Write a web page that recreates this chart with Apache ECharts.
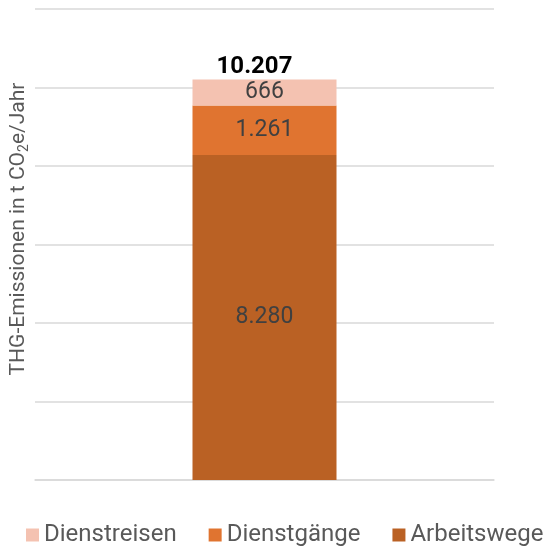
<!DOCTYPE html>
<html><head><meta charset="utf-8">
<script src="https://cdn.jsdelivr.net/npm/echarts@6/dist/echarts.min.js"></script>
<style>html,body{margin:0;padding:0;background:#fff}#c{width:548px;height:546px}</style>
</head><body><div id="c"></div>
<script>
const categories = ['Gesamt'];
const arbeitswege = [8280];
const dienstgaenge = [1261];
const dienstreisen = [666];
const seriesNames = ['Dienstreisen', 'Dienstgänge', 'Arbeitswege'];
const yMin = 0, yMax = 12000, yInterval = 2000;

function fmt(v){ return String(Math.round(v)).replace(/\B(?=(\d{3})+(?!\d))/g, '.'); }
const totals = categories.map((c,i)=>arbeitswege[i]+dienstgaenge[i]+dienstreisen[i]);

const labelStyle = {show:true, position:'inside', color:'#404040', fontSize:23, fontFamily:'Roboto', formatter:p=>fmt(p.value)};
const chart = echarts.init(document.getElementById('c'));
chart.setOption({
  animation:false,
  textStyle:{fontFamily:'Roboto'},
  grid:{left:35, right:54, top:9, bottom:66, containLabel:false, outerBoundsMode:'none'},
  legend:{data:seriesNames, top:523, left:26, width:522, padding:0, itemWidth:13, itemHeight:13, itemGap:32, icon:'rect',
    textStyle:{fontSize:24, color:'#595959', fontFamily:'Roboto'}},
  xAxis:{type:'category', data:categories, axisLabel:{show:false}, axisTick:{show:false},
    axisLine:{show:true, lineStyle:{color:'#d9d9d9', width:1.5}}},
  yAxis:{type:'value', min:yMin, max:yMax, interval:yInterval, axisLabel:{show:false},
    axisLine:{show:false}, axisTick:{show:false},
    splitLine:{lineStyle:{color:'#d9d9d9', width:1.5}},
    name:'THG-Emissionen in t CO{s|2}e/Jahr', nameLocation:'middle', nameRotate:90, nameGap:4,
    nameTextStyle:{fontSize:21, color:'#595959', fontFamily:'Roboto', padding:[0,0,0,31],
      rich:{s:{fontSize:14, color:'#595959', padding:[10,0,0,0], fontFamily:'Roboto'}}}},
  series:[
    {name:'Arbeitswege', type:'bar', stack:'t', data:arbeitswege, barWidth:144, itemStyle:{color:'#BA6124'}, label:labelStyle},
    {name:'Dienstgänge', type:'bar', stack:'t', data:dienstgaenge, itemStyle:{color:'#E07430'}, label:labelStyle},
    {name:'Dienstreisen', type:'bar', stack:'t', data:dienstreisen, itemStyle:{color:'#F4C2B1'}, label:labelStyle},
    {name:'Summe', type:'bar', stack:'t', data:totals.map(()=>0), itemStyle:{color:'transparent'},
      label:{show:true, position:'top', color:'#000', fontWeight:'bold', fontSize:24, fontFamily:'Roboto',
        distance:0, offset:[-10,0], formatter:p=>fmt(totals[p.dataIndex])}}
  ]
});
</script></body></html>
